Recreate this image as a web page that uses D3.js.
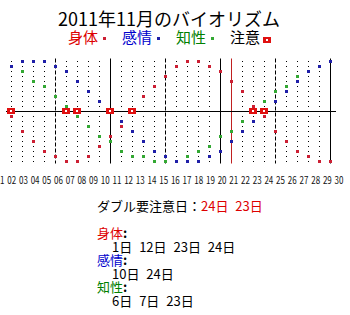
<!DOCTYPE html>
<html><head><meta charset="utf-8">
<script src="https://cdn.jsdelivr.net/npm/d3@7"></script>
<style>
html,body{margin:0;padding:0;background:#fff;}
svg{display:block;}
text{font-family:"Noto Sans CJK JP","Noto Sans",sans-serif;}
</style></head>
<body>
<svg id="chart" width="350" height="315"></svg>
<script>
const title = "2011年11月のバイオリズム";
const days = [1,2,3,4,5,6,7,8,9,10,11,12,13,14,15,16,17,18,19,20,21,22,23,24,25,26,27,28,29,30];
const dayLabels = ["01","02","03","04","05","06","07","08","09","10","11","12","13","14","15","16","17","18","19","20","21","22","23","24","25","26","27","28","29","30"];
const body      = [-0.1,-0.4,-0.6,-0.8,-0.9,-1.0,-1.0,-0.9,-0.7,-0.5,-0.3,0,0.3,0.5,0.7,0.9,1.0,1.0,0.9,0.8,0.6,0.4,0.1,-0.1,-0.4,-0.6,-0.8,-0.9,-1.0,-1.0];
const emotion   = [0.9,1.0,1.0,1.0,0.9,0.8,0.6,0.4,0.2,0,-0.2,-0.4,-0.6,-0.8,-0.9,-1.0,-1.0,-1.0,-0.9,-0.8,-0.6,-0.4,-0.2,0,0.2,0.4,0.6,0.8,0.9,1.0];
const intellect = [0.9,0.8,0.6,0.5,0.3,0.1,-0.1,-0.3,-0.5,-0.6,-0.8,-0.9,-0.9,-1.0,-1.0,-1.0,-0.9,-0.8,-0.7,-0.5,-0.4,-0.2,0,0.2,0.4,0.5,0.7,0.8,0.9,1.0];
const attentionDays = [1,6,7,10,12,23,24];
const solidDays = [10,20,30];
const dashedDays = [5,15,25];
const todayDays = [21];
const legendNames = ["身体","感情","知性","注意"];
const doubleDays = ["24日","23日"];
const bodyDays = ["1日","12日","23日","24日"];
const emotionDays = ["10日","24日"];
const intellectDays = ["6日","7日","23日"];

const colors = {body:"#cc1f33", emotion:"#1f1fa8", intellect:"#33a833", att:"#e01010", today:"#c02020"};
const textColors = ["#dd0000","#0000cc","#008000","#000000"];

const svg = d3.select("#chart");
const x = d3.scaleLinear().domain([0,30]).range([0.5,330.5]);
const y = d3.scaleLinear().domain([-1,1]).range([161.5,61.5]);
const xl = d3.scalePoint().domain(dayLabels).range([0,339]);

// title
svg.append("text").attr("x",169).attr("y",26).attr("text-anchor","middle")
  .attr("font-size",18).attr("fill","#000").text(title);

// legend
const lx = d3.scalePoint().domain(legendNames).range([68,230]);
const lg = svg.append("g");
legendNames.forEach((n,i)=>{
  lg.append("text").attr("x",lx(n)).attr("y",43).attr("font-size",15)
    .attr("fill",textColors[i]).text(n);
});
[colors.body,colors.emotion,colors.intellect].forEach((c,i)=>{
  lg.append("rect").attr("x",lx(legendNames[i])+35).attr("y",37).attr("width",3).attr("height",3).attr("fill",c);
});
lg.append("rect").attr("x",lx("注意")+33).attr("y",37).attr("width",8).attr("height",6).attr("fill",colors.att);
lg.append("rect").attr("x",lx("注意")+36).attr("y",39).attr("width",2).attr("height",2).attr("fill","#fff");

// dotted columns
const levels = y.ticks(20);
const special = new Set([...solidDays,...dashedDays,...todayDays]);
const dotDays = days.filter(d=>!special.has(d));
const dots = [];
dotDays.forEach(d=>levels.forEach(v=>dots.push([d,v])));
svg.append("g").selectAll("rect").data(dots).join("rect")
  .attr("x",d=>x(d[0])-0.5).attr("y",d=>y(d[1])-0.5).attr("width",1).attr("height",1).attr("fill","#000");

// vertical lines
const vl = svg.append("g");
vl.selectAll(".solid").data(solidDays).join("line").attr("class","solid")
  .attr("x1",d=>x(d)).attr("x2",d=>x(d)).attr("y1",y(1)-3).attr("y2",y(-1)+2)
  .attr("stroke","#000").attr("stroke-width",1);
vl.selectAll(".dashed").data(dashedDays).join("line").attr("class","dashed")
  .attr("x1",d=>x(d)).attr("x2",d=>x(d)).attr("y1",y(1)-3).attr("y2",y(-1)+2)
  .attr("stroke","#000").attr("stroke-width",1).attr("stroke-dasharray","4,2");
vl.selectAll(".today").data(todayDays).join("line").attr("class","today")
  .attr("x1",d=>x(d)).attr("x2",d=>x(d)).attr("y1",y(1)-3).attr("y2",y(-1)+2)
  .attr("stroke",colors.today).attr("stroke-width",1);

// zero axis
svg.append("line").attr("x1",x(0.5)).attr("x2",x(30.5)).attr("y1",y(0)).attr("y2",y(0))
  .attr("stroke","#000").attr("stroke-width",1);

// series marks
function series(vals,color){
  svg.append("g").selectAll("rect").data(days).join("rect")
    .attr("x",d=>x(d)-1.5).attr("y",(d,i)=>y(vals[i])-1.5)
    .attr("width",3).attr("height",3).attr("fill",color);
}
series(body,colors.body);
series(intellect,colors.intellect);
series(emotion,colors.emotion);

// attention marks
const ag = svg.append("g");
ag.selectAll(".big").data(attentionDays).join("rect").attr("class","big")
  .attr("x",d=>x(d)-4.5).attr("y",y(0)-3.5).attr("width",8).attr("height",6).attr("fill",colors.att);
ag.selectAll(".dot").data(attentionDays).join("rect").attr("class","dot")
  .attr("x",d=>x(d)-1.5).attr("y",y(0)-1.5).attr("width",2).attr("height",2).attr("fill","#fff");

// day labels
svg.append("g").selectAll("text").data(dayLabels).join("text")
  .attr("transform",d=>`translate(${xl(d)},184) scale(0.8,1)`).attr("text-anchor","middle")
  .attr("font-family","Liberation Sans, sans-serif").attr("font-size",10).attr("fill","#111")
  .text(d=>d);

// bottom text block
const tb = svg.append("g").attr("font-size",13).attr("word-spacing",4);
const lh = 13.5;
const t1 = tb.append("text").attr("x",97).attr("y",211);
t1.append("tspan").attr("fill","#000").text("ダブル要注意日：");
t1.append("tspan").attr("fill","#dd0000").text(doubleDays.join(" "));
const groups = [["身体",bodyDays,textColors[0]],["感情",emotionDays,textColors[1]],["知性",intellectDays,textColors[2]]];
groups.forEach((g,i)=>{
  const base = 211 + lh*2 + i*2*lh;
  const h = tb.append("text").attr("x",97).attr("y",base);
  h.append("tspan").attr("fill",g[2]).text(g[0]);
  h.append("tspan").attr("fill","#000").attr("font-weight","bold").text(":");
  tb.append("text").attr("x",112).attr("y",base+lh).attr("fill","#000").text(g[1].join(" "));
});
</script>
</body></html>
